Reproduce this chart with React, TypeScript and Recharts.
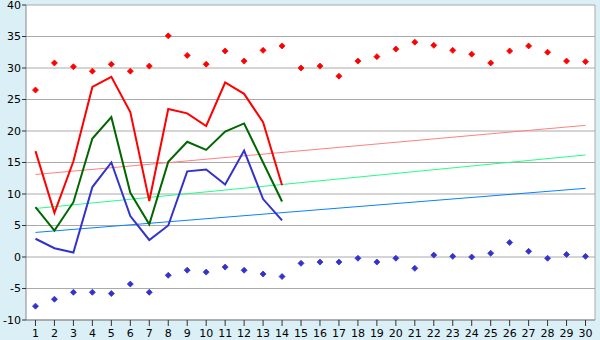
import { ComposedChart, Line, XAxis, YAxis, CartesianGrid } from 'recharts';

const days = Array.from({ length: 30 }, (_, i) => String(i + 1));

const maxDots = [26.5, 30.8, 30.2, 29.5, 30.6, 29.5, 30.3, 35.1, 32.0, 30.6, 32.7, 31.1, 32.8, 33.5, 30.0,
  30.3, 28.7, 31.1, 31.8, 33.0, 34.1, 33.6, 32.8, 32.2, 30.8, 32.7, 33.5, 32.5, 31.1, 31.0];
const minDots = [-7.8, -6.7, -5.6, -5.6, -5.8, -4.3, -5.6, -2.9, -2.1, -2.4, -1.6, -2.1, -2.7, -3.1, -1.0,
  -0.8, -0.8, -0.2, -0.8, -0.2, -1.8, 0.3, 0.1, 0.0, 0.6, 2.3, 0.9, -0.2, 0.4, 0.1];

const redLine = [16.8, 7.0, 15.2, 27.0, 28.6, 23.0, 8.9, 23.5, 22.8, 20.8, 27.7, 25.9, 21.4, 11.4];
const greenLine = [7.9, 4.2, 8.7, 18.8, 22.2, 10.2, 5.2, 15.1, 18.3, 17.0, 19.9, 21.2, 15.0, 8.8];
const blueLine = [2.9, 1.4, 0.7, 11.1, 15.0, 6.5, 2.7, 5.0, 13.6, 13.9, 11.5, 16.9, 9.2, 5.8];

// trend lines: start (day 1) and end (day 30)
const redTrend = [13.1, 20.9];
const greenTrend = [7.7, 16.2];
const blueTrend = [3.9, 10.9];

const yTicks = [-10, -5, 0, 5, 10, 15, 20, 25, 30, 35, 40];

const data = days.map((d, i) => ({
  day: d,
  max: maxDots[i],
  min: minDots[i],
  red: i < redLine.length ? redLine[i] : null,
  green: i < greenLine.length ? greenLine[i] : null,
  blue: i < blueLine.length ? blueLine[i] : null,
  rt: i === 0 ? redTrend[0] : i === days.length - 1 ? redTrend[1] : null,
  gt: i === 0 ? greenTrend[0] : i === days.length - 1 ? greenTrend[1] : null,
  bt: i === 0 ? blueTrend[0] : i === days.length - 1 ? blueTrend[1] : null,
}));

const tickStyle = { fontSize: 11, fill: '#000', fontFamily: 'DejaVu Sans, sans-serif' };

function diamond(color: string) {
  return (p: any) => {
    const { cx, cy, index } = p;
    if (cx == null || cy == null) return <g key={`d-${index}`} />;
    const r = 3;
    return (
      <path
        key={`d-${index}`}
        d={`M${cx},${cy - r} L${cx + r},${cy} L${cx},${cy + r} L${cx - r},${cy} Z`}
        fill={color}
        stroke={color}
        strokeWidth={0.8}
      />
    );
  };
}

export default function App() {
  return (
    <div style={{ position: 'absolute', left: 0, top: 0, width: 600, height: 340, background: '#daeff6' }}>
      <ComposedChart width={600} height={340} data={data} margin={{ top: 5, right: 0, bottom: 0, left: 0 }}>
        <CartesianGrid vertical={false} stroke="#aaaaaa" fill="#ffffff" />
        <XAxis
          dataKey="day"
          scale="band"
          height={20}
          tick={tickStyle}
          tickSize={6}
          tickMargin={3}
          interval={0}
          axisLine={{ stroke: '#888' }}
          tickLine={{ stroke: '#333' }}
        />
        <YAxis
          domain={[-10, 40]}
          ticks={yTicks}
          width={26}
          tick={tickStyle}
          tickSize={4}
          tickMargin={1}
          interval={0}
          axisLine={{ stroke: '#888' }}
          tickLine={{ stroke: '#333' }}
        />
        <YAxis yAxisId="r" orientation="right" width={5} tick={false} tickLine={false} axisLine={{ stroke: '#aaaaaa' }} />
        <Line dataKey="rt" stroke="#ff8080" strokeWidth={1} dot={false} connectNulls isAnimationActive={false} />
        <Line dataKey="gt" stroke="#22ff88" strokeWidth={1} dot={false} connectNulls isAnimationActive={false} />
        <Line dataKey="bt" stroke="#0a80ff" strokeWidth={1} dot={false} connectNulls isAnimationActive={false} />
        <Line dataKey="red" stroke="#ff0000" strokeWidth={2} dot={false} isAnimationActive={false} />
        <Line dataKey="green" stroke="#006600" strokeWidth={2} dot={false} isAnimationActive={false} />
        <Line dataKey="blue" stroke="#3333cc" strokeWidth={2} dot={false} isAnimationActive={false} />
        <Line dataKey="max" stroke="none" dot={diamond('#ff0000')} activeDot={false} isAnimationActive={false} />
        <Line dataKey="min" stroke="none" dot={diamond('#3333cc')} activeDot={false} isAnimationActive={false} />
      </ComposedChart>
    </div>
  );
}
